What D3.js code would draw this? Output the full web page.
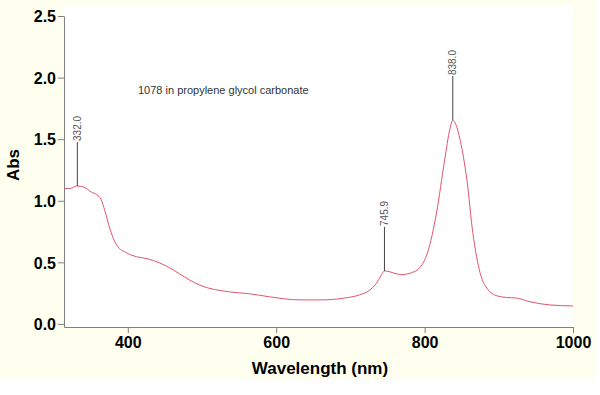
<!DOCTYPE html>
<html>
<head>
<meta charset="utf-8">
<script src="https://cdn.jsdelivr.net/npm/d3@7"></script>
<style>
  body { margin: 0; background: #fff; }
  svg { display: block; font-family: Arial, "Liberation Sans", sans-serif; }
</style>
</head>
<body>
<svg width="600" height="395"></svg>
<script>
// spectrum
var wavelength = [315, 323, 331, 341, 351, 358, 364, 369, 376, 385, 399, 412, 426, 443, 461, 470, 497, 537, 564, 591, 632, 660, 692, 712, 725, 735, 741, 746, 752, 760, 769, 782, 794, 804, 816, 827, 834, 838, 842, 848, 857, 865, 875, 884, 898, 910, 924, 942, 969, 1000];
var absorbance = [1.10, 1.10, 1.12, 1.11, 1.07, 1.05, 1.01, 0.92, 0.77, 0.64, 0.575, 0.545, 0.53, 0.495, 0.44, 0.405, 0.315, 0.26, 0.245, 0.22, 0.195, 0.195, 0.21, 0.235, 0.27, 0.33, 0.39, 0.43, 0.425, 0.41, 0.40, 0.415, 0.46, 0.58, 0.90, 1.33, 1.58, 1.655, 1.62, 1.49, 1.17, 0.74, 0.41, 0.29, 0.227, 0.215, 0.21, 0.18, 0.154, 0.146];

var peaks = [332.0, 745.9, 838.0];
var peakAbs = [1.12, 0.43, 1.655];

var xTicks = [400, 600, 800, 1000];
var yTicks = [0, 0.5, 1.0, 1.5, 2.0, 2.5];

var svg = d3.select("svg");

var x = d3.scaleLinear().domain([314, 1000]).range([64, 573]);
var y = d3.scaleLinear().domain([-0.025, 2.5]).range([327, 16]);

// backgrounds
svg.append("rect").attr("x", 0).attr("y", 0).attr("width", 595).attr("height", 380).attr("fill", "#fffff0");
svg.append("rect").attr("x", 64).attr("y", 5).attr("width", 509).attr("height", 322).attr("fill", "#fff");

// axes
var xAxis = svg.append("g").attr("transform", "translate(0,327)")
    .call(d3.axisBottom(x).tickValues(xTicks).tickFormat(d3.format("d")).tickSize(6).tickSizeOuter(0).tickPadding(4));
var yAxis = svg.append("g").attr("transform", "translate(64,0)")
    .call(d3.axisLeft(y).tickValues(yTicks).tickFormat(d3.format(".1f")).tickSize(6).tickSizeOuter(0).tickPadding(2));

[xAxis, yAxis].forEach(function(a) {
  a.select(".domain").attr("stroke", "#808080");
  a.selectAll(".tick line").attr("stroke", "#808080");
  a.selectAll(".tick text").attr("fill", "#000").style("font-size", "16px").style("font-weight", "bold")
    .style("font-family", "Arial, 'Liberation Sans', sans-serif");
});
yAxis.selectAll(".tick text").attr("dy", "0.36em");

// spectrum line
var pts = wavelength.map(function(w, i) { return [w, absorbance[i]]; });
var line = d3.line()
    .x(function(d) { return x(d[0]); })
    .y(function(d) { return y(d[1]); })
    .curve(d3.curveMonotoneX);

svg.append("path")
    .datum(pts)
    .attr("fill", "none")
    .attr("stroke", "#e0556e")
    .attr("stroke-width", 1)
    .attr("d", line);

// peak markers
var pk = svg.append("g").selectAll("g").data(peaks).enter().append("g");
pk.append("line")
    .attr("x1", function(d) { return x(d); })
    .attr("x2", function(d) { return x(d); })
    .attr("y1", function(d, i) { return y(peakAbs[i]); })
    .attr("y2", function(d, i) { return y(peakAbs[i]) - 44; })
    .attr("stroke", "#444").attr("stroke-width", 1);
pk.append("text")
    .attr("transform", function(d, i) {
      return "translate(" + x(d) + "," + (y(peakAbs[i]) - 45) + ") rotate(-90)";
    })
    .attr("dy", "0.35em")
    .attr("fill", "#555")
    .style("font-size", "10px")
    .text(function(d) { return d.toFixed(1); });

// annotation
svg.append("text").attr("x", 138).attr("y", 94)
    .attr("fill", "#333").style("font-size", "11px")
    .text("1078 in propylene glycol carbonate");

// axis titles
svg.append("text").attr("x", 320).attr("y", 374).attr("text-anchor", "middle")
    .style("font-size", "17px").style("font-weight", "bold").text("Wavelength (nm)");
svg.append("text").attr("transform", "translate(19,165) rotate(-90)").attr("text-anchor", "middle")
    .style("font-size", "17px").style("font-weight", "bold").text("Abs");
</script>
</body>
</html>
